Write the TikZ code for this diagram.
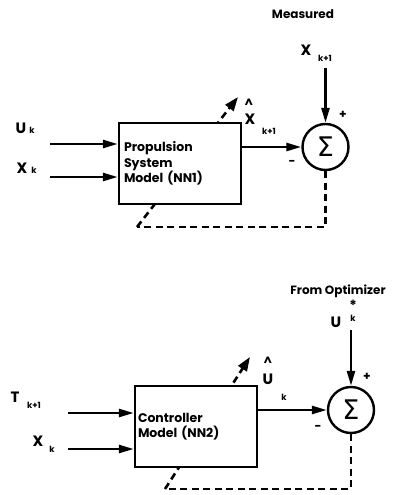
\documentclass[tikz,border=0pt]{standalone}
\usepackage{fontspec}
\setmainfont{Poppins}
\newfontfamily\sigmafont{DejaVu Sans}
\usetikzlibrary{arrows.meta,calc,positioning,backgrounds}
\tikzset{
  modelbox/.style = {draw, line width=2.4pt, fill=white, minimum width=122pt,
                     minimum height=81pt, text width=112pt, align=left,
                     inner xsep=4pt, font=\bfseries\fontsize{12.5}{15.5}\selectfont},
  sumnode/.style  = {circle, draw, line width=2.4pt, fill=white, minimum size=46pt,
                     inner sep=0pt, font=\sigmafont\fontsize{27}{27}\selectfont},
  sig/.style      = {line width=2.6pt, -{Triangle[length=15pt,width=8pt]}},
  fb/.style       = {line width=2.6pt, dash pattern=on 7pt off 4.5pt},
  lbl/.style      = {font=\bfseries\fontsize{15}{15}\selectfont, inner sep=0pt},
  sub/.style      = {font=\bfseries\fontsize{8.5}{8.5}\selectfont, inner sep=0pt},
  head/.style     = {font=\bfseries\fontsize{12}{12}\selectfont, inner sep=0pt},
  sgn/.style      = {font=\bfseries\fontsize{12}{12}\selectfont, inner sep=0pt},
}

\begin{document}
\begin{tikzpicture}[x=1pt,y=-1pt]
  \useasboundingbox (0,0) rectangle (397,495);

  % propulsion system model (NN1)
  \node[modelbox] (nnone) at (180,163.5) {Propulsion\\System\\Model (NN1)};
  \node[sumnode] (sumone) at (325.5,147) {Σ};
  \coordinate (uin) at (50,144);
  \coordinate (xin) at (50,177);
  \coordinate (meas) at (325.5,68);
  \coordinate (fbone) at (137,227);
  \coordinate (tipone) at (238,97);

  \node[head] (measured) at (303,14) {Measured};
  \node[lbl] (xmeas) at (306,50) {X};
  \node[sub] (xmeassub) at (325,58) {k+1};
  \node[lbl] (uklbl) at (21,128) {U};
  \node[sub] (uksub) at (32,130) {k};
  \node[lbl] (xklbl) at (22,168) {X};
  \node[sub] (xksub) at (34,170) {k};
  \node[sgn] (plusone) at (343,115) {+};
  \node[sgn] (minusone) at (292,163) {-};
  \node[sgn, anchor=north] (hatone) at (249,99) {\^{}};
  \node[lbl] (xhat) at (250,119) {X};
  \node[sub] (xhatsub) at (269,131) {k+1};

  \draw[sig] (uin) -- (nnone.west |- uin);
  \draw[sig] (xin) -- (nnone.west |- xin);
  \draw[sig] (nnone.east |- sumone) -- (sumone.west);
  \draw[sig] (meas) -- (sumone.north);
  \begin{scope}[on background layer]
    \draw[fb] (sumone.south) |- (fbone);
    \draw[fb, -{Triangle[length=14pt,width=10pt]}] (fbone) -- (tipone);
  \end{scope}

  % controller model (NN2)
  \node[modelbox, inner xsep=2pt, text width=116pt] (nntwo) at (196,426.5) {Controller\\Model (NN2)};
  \node[sumnode] (sumtwo) at (351,410) {Σ};
  \coordinate (tin) at (68,413);
  \coordinate (xin2) at (68,449);
  \coordinate (opt) at (351,330);
  \coordinate (fbtwo) at (165,489);
  \coordinate (tiptwo) at (250,357);

  \node[head] (fromopt) at (338,291) {From Optimizer};
  \node[lbl] (ustar) at (336,322) {U};
  \node[font=\bfseries\fontsize{14}{14}\selectfont, inner sep=0pt, anchor=north] (ustarsup) at (353,300) {*};
  \node[sub] (ustarsub) at (353,318) {k};
  \node[lbl] (tlbl) at (15,397) {T};
  \node[sub] (tsub) at (34,405) {k+1};
  \node[lbl] (xklbl2) at (38,441) {X};
  \node[sub] (xksub2) at (52,449) {k};
  \node[sgn] (plustwo) at (367,377) {+};
  \node[sgn] (minustwo) at (318,428) {-};
  \node[sgn, anchor=north] (hattwo) at (268,357) {\^{}};
  \node[lbl] (uhat) at (268,379) {U};
  \node[sub] (uhatsub) at (284,397) {k};

  \draw[sig] (tin) -- (nntwo.west |- tin);
  \draw[sig] (xin2) -- (nntwo.west |- xin2);
  \draw[sig] (nntwo.east |- sumtwo) -- (sumtwo.west);
  \draw[sig] (opt) -- (sumtwo.north);
  \begin{scope}[on background layer]
    \draw[fb] (sumtwo.south) |- (fbtwo);
    \draw[fb, -{Triangle[length=14pt,width=10pt]}] (fbtwo) -- (tiptwo);
  \end{scope}
\end{tikzpicture}
\end{document}
